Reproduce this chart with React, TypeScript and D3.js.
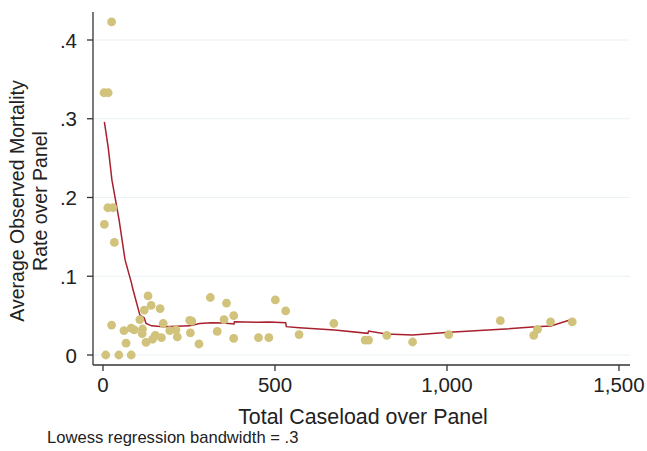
import React from "react";
import * as d3 from "d3";

const caseload = [25, 3, 15, 14, 29, 4, 33, 25, 8, 46, 82, 61, 67, 82, 91, 107, 115, 114, 120, 131, 140, 166, 125, 144, 152, 170, 175, 194, 216, 212, 252, 258, 254, 279, 312, 332, 359, 352, 380, 380, 452, 482, 501, 531, 570, 671, 762, 772, 825, 900, 1005, 1155, 1263, 1252, 1301, 1364];
const mortality = [0.423, 0.333, 0.333, 0.187, 0.187, 0.166, 0.143, 0.038, 0, 0, 0, 0.031, 0.015, 0.034, 0.032, 0.045, 0.033, 0.027, 0.057, 0.075, 0.063, 0.059, 0.016, 0.02, 0.025, 0.022, 0.04, 0.031, 0.023, 0.032, 0.044, 0.043, 0.028, 0.014, 0.073, 0.03, 0.066, 0.045, 0.05, 0.021, 0.022, 0.022, 0.07, 0.056, 0.026, 0.04, 0.019, 0.019, 0.025, 0.0165, 0.026, 0.0436, 0.0326, 0.025, 0.042, 0.042];

const lowessX = [4, 15, 26, 47, 64, 83, 86, 107, 120, 125, 141, 175, 252, 281, 315, 349, 381, 382, 449, 483, 531, 533, 571, 673, 770, 772, 823, 900, 1007, 1157, 1258, 1302, 1364];
const lowessY = [0.296, 0.264, 0.222, 0.171, 0.121, 0.091, 0.085, 0.051, 0.047, 0.04, 0.037, 0.036, 0.037, 0.04, 0.041, 0.0405, 0.0394, 0.0423, 0.0415, 0.042, 0.041, 0.036, 0.0347, 0.0317, 0.0275, 0.0305, 0.0267, 0.0254, 0.0288, 0.0326, 0.036, 0.0368, 0.0453];

const xTicks = [0, 500, 1000, 1500];
const xTickLabels = ["0", "500", "1,000", "1,500"];
const yTicks = [0, 0.1, 0.2, 0.3, 0.4];
const yTickLabels = ["0", ".1", ".2", ".3", ".4"];

const yTitleLines = ["Average Observed Mortality", "Rate over Panel"];
const xTitle = "Total Caseload over Panel";
const note = "Lowess regression bandwidth = .3";

export default function App() {
  const W = 647, H = 451;
  const x = d3.scaleLinear().domain([0, 1500]).range([103, 619]);
  const y = d3.scaleLinear().domain([0, 0.4]).range([355, 40]);
  const axisX = 93, axisY = 365, plotRight = 630, plotTop = 12;
  const font = "'Liberation Sans', Arial, Helvetica, sans-serif";

  const line = d3
    .line<number>()
    .x((_, i) => x(lowessX[i]))
    .y((_, i) => y(lowessY[i]));
  const pathD = line(lowessX.map((_, i) => i)) || "";

  return (
    <svg width={W} height={H} style={{ position: "absolute", left: 0, top: 0, background: "#fff" }} fontFamily={font}>
      <rect x={0} y={0} width={W} height={H} fill="#fff" />
      {yTicks.map((t) => (
        <line key={"g" + t} x1={axisX} x2={plotRight} y1={y(t)} y2={y(t)} stroke="#eaf2f4" strokeWidth={1.2} />
      ))}
      <path d={pathD} fill="none" stroke="#a8202e" strokeWidth={1.5} />
      {caseload.map((c, i) => (
        <circle key={i} cx={x(c)} cy={y(mortality[i])} r={4.4} fill="#d1c27c" />
      ))}
      <line x1={axisX} x2={axisX} y1={plotTop} y2={axisY} stroke="#333" strokeWidth={1.3} />
      <line x1={axisX} x2={plotRight} y1={axisY} y2={axisY} stroke="#333" strokeWidth={1.3} />
      {yTicks.map((t, i) => (
        <g key={"y" + t}>
          <line x1={axisX - 6} x2={axisX} y1={y(t)} y2={y(t)} stroke="#333" strokeWidth={1.3} />
          <text x={77} y={y(t)} textAnchor="end" dominantBaseline="central" fontSize={20.5} fill="#222">
            {yTickLabels[i]}
          </text>
        </g>
      ))}
      {xTicks.map((t, i) => (
        <g key={"x" + t}>
          <line x1={x(t)} x2={x(t)} y1={axisY} y2={axisY + 6} stroke="#333" strokeWidth={1.3} />
          <text x={x(t)} y={392} textAnchor="middle" fontSize={20.5} fill="#222">
            {xTickLabels[i]}
          </text>
        </g>
      ))}
      <text x={363} y={424} textAnchor="middle" fontSize={21.4} fill="#222">{xTitle}</text>
      {yTitleLines.map((s, i) => (
        <text key={s} transform={`translate(${24 + i * 23},${201}) rotate(-90)`} textAnchor="middle" fontSize={19.5} fill="#222">
          {s}
        </text>
      ))}
      <text x={47} y={443} fontSize={16.6} fill="#222">{note}</text>
    </svg>
  );
}
